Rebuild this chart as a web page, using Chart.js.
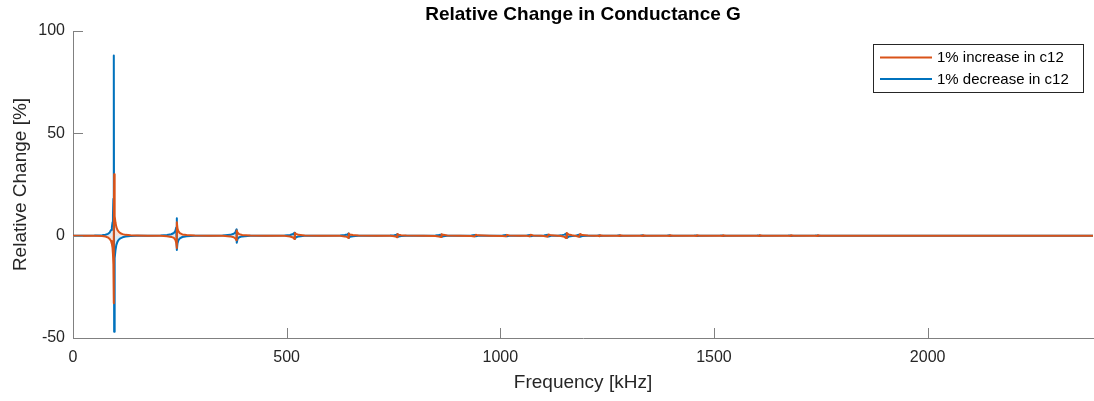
<!DOCTYPE html>
<html><head><meta charset="utf-8">
<script src="https://cdn.jsdelivr.net/npm/chart.js@4.4.0/dist/chart.umd.min.js"></script>
<style>html,body{margin:0;padding:0;background:#fff;}</style>
</head><body>
<canvas id="c" width="1094" height="401"></canvas>
<script>
const chartTitle = 'Relative Change in Conductance G';
const xLabel = 'Frequency [kHz]';
const yLabel = 'Relative Change [%]';
const seriesNames = ['1% increase in c12', '1% decrease in c12'];
const xTicks = [0, 500, 1000, 1500, 2000];
const yTicks = [-50, 0, 50, 100];

const freqKHz = [
  0, 20, 50,
  68, 76, 82, 86, 89, 91, 92.5, 93.5, 94.5, 95.2, 95.8, 96.3, 97, 98, 99.5, 101.5, 104, 107, 111, 116, 123, 135, 150, 175,
  205, 220, 230, 236, 239.5, 241.5, 242.7, 243.3, 244.5, 246.5, 250, 256, 266, 285, 320,
  350, 368, 376, 380, 382.3, 383.2, 385, 389, 396, 415, 450,
  495, 508, 515, 518.3, 519.3, 522, 528, 542, 580,
  625, 636, 642, 644.5, 645.4, 648, 655, 668, 710,
  742, 752, 757, 758.6, 759.4, 762, 768, 780, 820,
  848, 856, 861.5, 862.5, 867, 876, 905,
  932, 940, 942.6, 948, 975,
  1005, 1013, 1015.6, 1021, 1045,
  1062, 1068.5, 1071, 1077, 1095,
  1102, 1110.5, 1112.8, 1119, 1135,
  1142, 1150, 1154, 1155.6, 1160, 1168, 1175,
  1178, 1184, 1186.6, 1192, 1205, 1220,
  1228, 1232.6, 1233.4, 1240,
  1274, 1279.6, 1280.4, 1287,
  1328, 1333.6, 1334.4, 1341,
  1391, 1396.6, 1397.4, 1404,
  1454, 1459.6, 1460.4, 1467,
  1515, 1520.6, 1521.4, 1528,
  1601, 1606.6, 1607.4, 1614,
  1674, 1679.6, 1680.4, 1687,
  1737, 1742.6, 1743.4, 1750,
  2387
];

const increaseC12 = [
  0, -0.02, -0.05,
  -0.2, -0.45, -0.9, -1.6, -2.6, -4, -6, -9, -14, -33, 5, 30, 16, 9.5, 6.3, 4.2, 2.8, 1.9, 1.2, 0.75, 0.4, 0.2, 0.08, -0.02,
  -0.1, -0.3, -0.6, -1.1, -2, -3.5, -6, 6.5, 3.6, 2.2, 1.2, 0.6, 0.28, 0.1, -0.02,
  -0.1, -0.35, -0.8, -1.4, -2.2, 2.5, 1.5, 0.75, 0.35, 0.1, 0,
  -0.1, -0.4, -0.9, -1.6, 1.3, 0.9, 0.4, 0.1, 0,
  -0.1, -0.35, -0.7, -1.1, 1.0, 0.6, 0.3, 0.08, 0,
  -0.08, -0.3, -0.6, -0.8, 0.8, 0.5, 0.25, 0.05, 0,
  -0.15, -0.4, -0.7, 0.7, 0.4, 0.1, 0,
  -0.15, -0.4, 0.45, 0.15, 0,
  -0.12, -0.35, 0.4, 0.12, 0,
  -0.1, -0.35, 0.4, 0.12, 0,
  -0.15, -0.5, 0.55, 0.15, 0,
  -0.2, -0.6, -1.2, 1.3, 0.6, 0.2, 0,
  -0.2, -0.6, 0.8, 0.3, 0.05, 0,
  -0.05, -0.25, 0.25, 0,
  -0.05, -0.2, 0.2, 0,
  -0.05, -0.2, 0.2, 0,
  -0.05, -0.2, 0.2, 0,
  -0.05, -0.15, 0.15, 0,
  -0.05, -0.15, 0.15, 0,
  -0.05, -0.15, 0.15, 0,
  -0.05, -0.15, 0.15, 0,
  -0.05, -0.15, 0.15, 0,
  0
];

const decreaseC12 = [
  0, 0.02, 0.05,
  0.2, 0.45, 0.9, 1.6, 2.8, 4.2, 6.5, 10, 18, 40, 88, -47, -20, -11, -7, -4.5, -3, -2, -1.3, -0.8, -0.45, -0.2, -0.08, 0.02,
  0.1, 0.3, 0.7, 1.3, 2.3, 4, 8.5, -7, -3.8, -2.3, -1.3, -0.65, -0.3, -0.1, 0.02,
  0.1, 0.4, 0.9, 1.6, 3, -3.5, -1.6, -0.8, -0.35, -0.1, 0,
  0.1, 0.35, 0.8, 1.4, -1.5, -0.8, -0.35, -0.1, 0,
  0.08, 0.3, 0.6, 1.0, -1.1, -0.55, -0.25, -0.05, 0,
  0.08, 0.25, 0.5, 0.7, -0.7, -0.4, -0.15, 0, 0,
  0.1, 0.3, 0.5, -0.5, -0.25, -0.05, 0,
  0.1, 0.3, -0.3, -0.1, 0,
  0.1, 0.3, -0.3, -0.1, 0,
  0.1, 0.3, -0.25, -0.08, 0,
  0.1, 0.4, -0.4, -0.1, 0,
  0.15, 0.5, 1.0, -1.1, -0.45, -0.15, 0,
  0.15, 0.5, -0.5, -0.2, 0, 0,
  0.05, 0.2, -0.2, 0,
  0.05, 0.15, -0.15, 0,
  0.05, 0.15, -0.15, 0,
  0.05, 0.15, -0.15, 0,
  0.05, 0.12, -0.12, 0,
  0.05, 0.12, -0.12, 0,
  0.05, 0.12, -0.12, 0,
  0.05, 0.12, -0.12, 0,
  0.05, 0.12, -0.12, 0,
  0
];

const orange = '#D95319';
const blue = '#0072BD';
const textColor = '#262626';
const axisColor = '#808080';
const FONT = "'Liberation Sans', Arial, Helvetica, sans-serif";

const toPts = ys => freqKHz.map((x, i) => ({x: x, y: ys[i]}));

const decor = {
  id: 'decor',
  afterDatasetsDraw(chart) {
    const {ctx, chartArea: a, scales: {x, y}} = chart;
    ctx.save();
    ctx.strokeStyle = axisColor;
    ctx.lineWidth = 1;
    ctx.beginPath();
    yTicks.forEach(v => {
      const py = Math.round(y.getPixelForValue(v)) + 0.5;
      ctx.moveTo(a.left, py); ctx.lineTo(a.left + 10, py);
    });
    xTicks.forEach(v => {
      const px = Math.round(x.getPixelForValue(v)) + 0.5;
      ctx.moveTo(px, a.bottom); ctx.lineTo(px, a.bottom - 10);
    });
    ctx.stroke();
    ctx.restore();
  },
  afterDraw(chart) {
    const {ctx, chartArea: a} = chart;
    ctx.save();
    ctx.fillStyle = '#000';
    ctx.font = "bold 19px " + FONT;
    ctx.textAlign = 'center';
    ctx.textBaseline = 'middle';
    ctx.fillText(chartTitle, (a.left + a.right) / 2, 15);
    const bx = 873.5, by = 44.5, bw = 210, bh = 48;
    ctx.fillStyle = '#fff';
    ctx.fillRect(bx, by, bw, bh);
    ctx.strokeStyle = textColor;
    ctx.lineWidth = 1;
    ctx.strokeRect(bx, by, bw, bh);
    ctx.font = "15px " + FONT;
    ctx.textAlign = 'left';
    chart.data.datasets.forEach((ds, i) => {
      const ly = 57.5 + i * 21.5;
      ctx.strokeStyle = ds.borderColor;
      ctx.lineWidth = 2;
      ctx.beginPath(); ctx.moveTo(880, ly); ctx.lineTo(932, ly); ctx.stroke();
      ctx.fillStyle = '#000';
      ctx.fillText(ds.label, 937, ly + 0.5);
    });
    ctx.restore();
  }
};

new Chart(document.getElementById('c'), {
  type: 'line',
  data: {
    datasets: [
      {label: seriesNames[0], data: toPts(increaseC12), borderColor: orange, backgroundColor: 'rgba(217,83,25,0.18)', fill: 'origin', borderWidth: 2, borderJoinStyle: 'round', pointRadius: 0, tension: 0},
      {label: seriesNames[1], data: toPts(decreaseC12), borderColor: blue, backgroundColor: 'rgba(0,114,189,0.15)', fill: 'origin', borderWidth: 2, borderJoinStyle: 'round', pointRadius: 0, tension: 0}
    ]
  },
  options: {
    responsive: false,
    animation: false,
    layout: {padding: {top: 31, right: 1, left: 0, bottom: 0}},
    plugins: {legend: {display: false}, title: {display: false}, tooltip: {enabled: false}},
    scales: {
      x: {
        type: 'linear', min: 0, max: 2387,
        afterBuildTicks: s => { s.ticks = xTicks.map(v => ({value: v})); },
        afterFit: s => { s.height = 63; },
        grid: {display: false, drawTicks: false},
        border: {display: true, color: axisColor, width: 1},
        ticks: {color: textColor, font: {size: 16, family: FONT}, padding: 10, maxRotation: 0, autoSkip: false, callback: v => String(v)},
        title: {display: true, text: xLabel, color: textColor, font: {size: 19, family: FONT}, padding: {top: 7, bottom: 7}}
      },
      y: {
        type: 'linear', min: -50, max: 100,
        afterBuildTicks: s => { s.ticks = yTicks.map(v => ({value: v})); },
        afterFit: s => { s.width = 73; },
        grid: {display: false, drawTicks: false},
        border: {display: true, color: axisColor, width: 1},
        ticks: {color: textColor, font: {size: 16, family: FONT}, padding: 8, callback: v => String(v)},
        title: {display: true, text: yLabel, color: textColor, font: {size: 19, family: FONT}, padding: {top: 9, bottom: 9}}
      }
    }
  },
  plugins: [decor]
});
</script>
</body></html>
